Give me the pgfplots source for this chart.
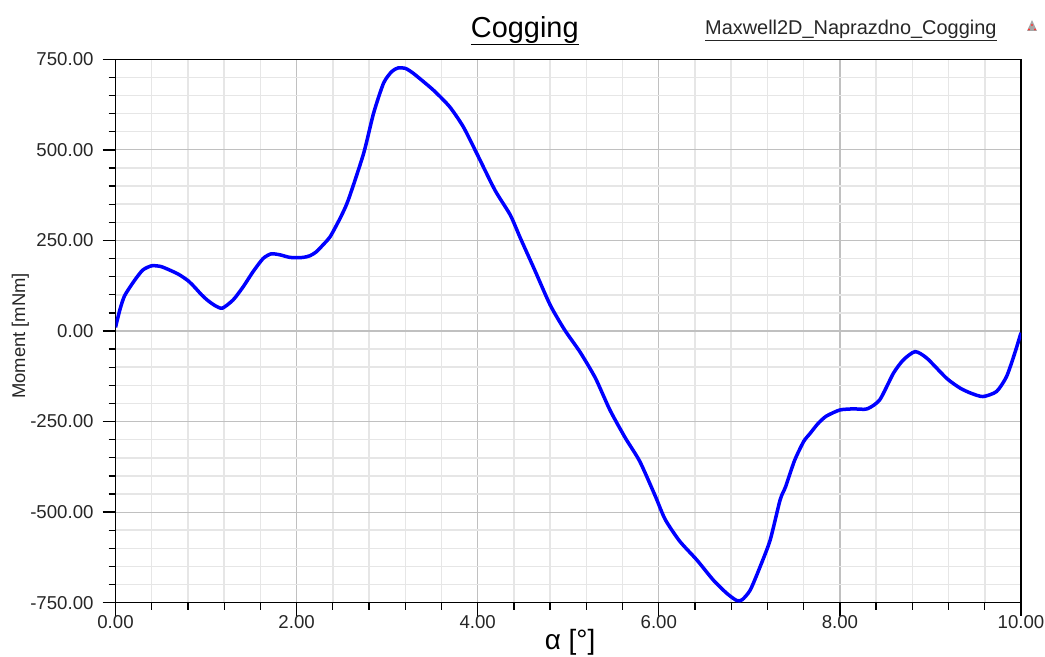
\documentclass[border=0pt]{standalone}
\usepackage{pgfplots}
\pgfplotsset{compat=1.18}
\usepackage{fontspec}
\setmainfont{Liberation Sans}
\definecolor{majgrid}{RGB}{192,192,192}
\definecolor{mingrid}{RGB}{230,230,230}
\begin{document}
\begin{tikzpicture}
\useasboundingbox (0,0) rectangle (1045bp,657bp);
\begin{axis}[
  at={(115.5bp,54.3bp)}, anchor=south west,
  scale only axis, width=905.5bp, height=543.4bp,
  xmin=0, xmax=10, ymin=-750, ymax=750,
  xtick={0,2,4,6,8,10},
  xticklabels={0.00,2.00,4.00,6.00,8.00,10.00},
  ytick={-750,-500,-250,0,250,500,750},
  yticklabels={-750.00,-500.00,-250.00,0.00,250.00,500.00,750.00},
  minor x tick num=4, minor y tick num=4,
  tick align=outside, xtick pos=bottom, ytick pos=left,
  major tick length=13bp, minor tick length=7bp,
  every tick/.style={black, line width=1.3bp},
  axis line style={black, line width=1.5bp},
  grid=both,
  major grid style={majgrid, line width=1.2bp},
  minor grid style={mingrid, line width=1.5bp},
  ticklabel style={font=\fontsize{18.7}{20}\selectfont, color=black!85},
  yticklabel style={xshift=-5.5bp},
  xticklabel style={yshift=4bp},
  xlabel={α [°]},
  ylabel={Moment [mNm]},
  every axis x label/.style={at={(axis description cs:0.502,-0.0865)}, anchor=base, font=\fontsize{28}{30}\selectfont},
  every axis y label/.style={at={(axis description cs:-0.105,0.491)}, rotate=90, anchor=center, font=\fontsize{18.5}{20}\selectfont, color=black!85},
  title={\underline{Cogging}},
  every axis title/.style={at={(axis description cs:0.452,1.041)}, anchor=base, font=\fontsize{29}{31}\selectfont},
]
\addplot[blue, line width=3.5bp, smooth, tension=0.4] coordinates {
(0.00,10) (0.05,60) (0.10,97) (0.20,136) (0.30,168) (0.40,180) (0.50,178)
(0.60,168) (0.70,156) (0.80,139) (0.87,122) (0.95,100) (1.02,84) (1.10,70)
(1.18,63) (1.30,86)
(1.41,122) (1.52,164) (1.63,200) (1.72,213) (1.82,210) (1.93,203) (2.07,203)
(2.15,208) (2.22,219) (2.30,240) (2.37,260) (2.48,311) (2.57,361) (2.74,490)
(2.85,601) (2.96,684) (3.05,716) (3.12,726) (3.20,725) (3.29,711) (3.51,665)
(3.69,619) (3.84,564) (3.99,490) (4.19,389) (4.36,320) (4.47,257) (4.63,168)
(4.80,72) (4.96,3) (5.13,-58) (5.30,-130) (5.46,-218) (5.63,-295) (5.79,-360)
(5.96,-455) (6.07,-520) (6.23,-580) (6.42,-632) (6.60,-687) (6.75,-724)
(6.86,-744) (6.92,-742) (7.01,-715) (7.12,-650) (7.23,-577) (7.34,-466)
(7.40,-430) (7.50,-357) (7.60,-305) (7.67,-283) (7.76,-255) (7.85,-235)
(8.00,-218) (8.15,-215)
(8.30,-215) (8.44,-190) (8.59,-117) (8.70,-80) (8.83,-57) (8.96,-75)
(9.18,-131) (9.33,-158) (9.45,-172) (9.58,-181) (9.73,-167) (9.84,-126)
(9.93,-62) (10.0,-5)
};
\end{axis}
\node[anchor=base west, font=\fontsize{20}{22}\selectfont, color=black!85, inner sep=0pt] at (705bp,622bp) {\underline{Maxwell2D\_Naprazdno\_Cogging}};
\fill[gray!70] (1027bp,626bp) -- (1037bp,626bp) -- (1032bp,637bp) -- cycle;
\fill[red!80] (1029bp,627.5bp) circle (1.2bp) (1035bp,627.5bp) circle (1.2bp) (1032bp,632bp) circle (1.2bp);
\end{tikzpicture}
\end{document}
